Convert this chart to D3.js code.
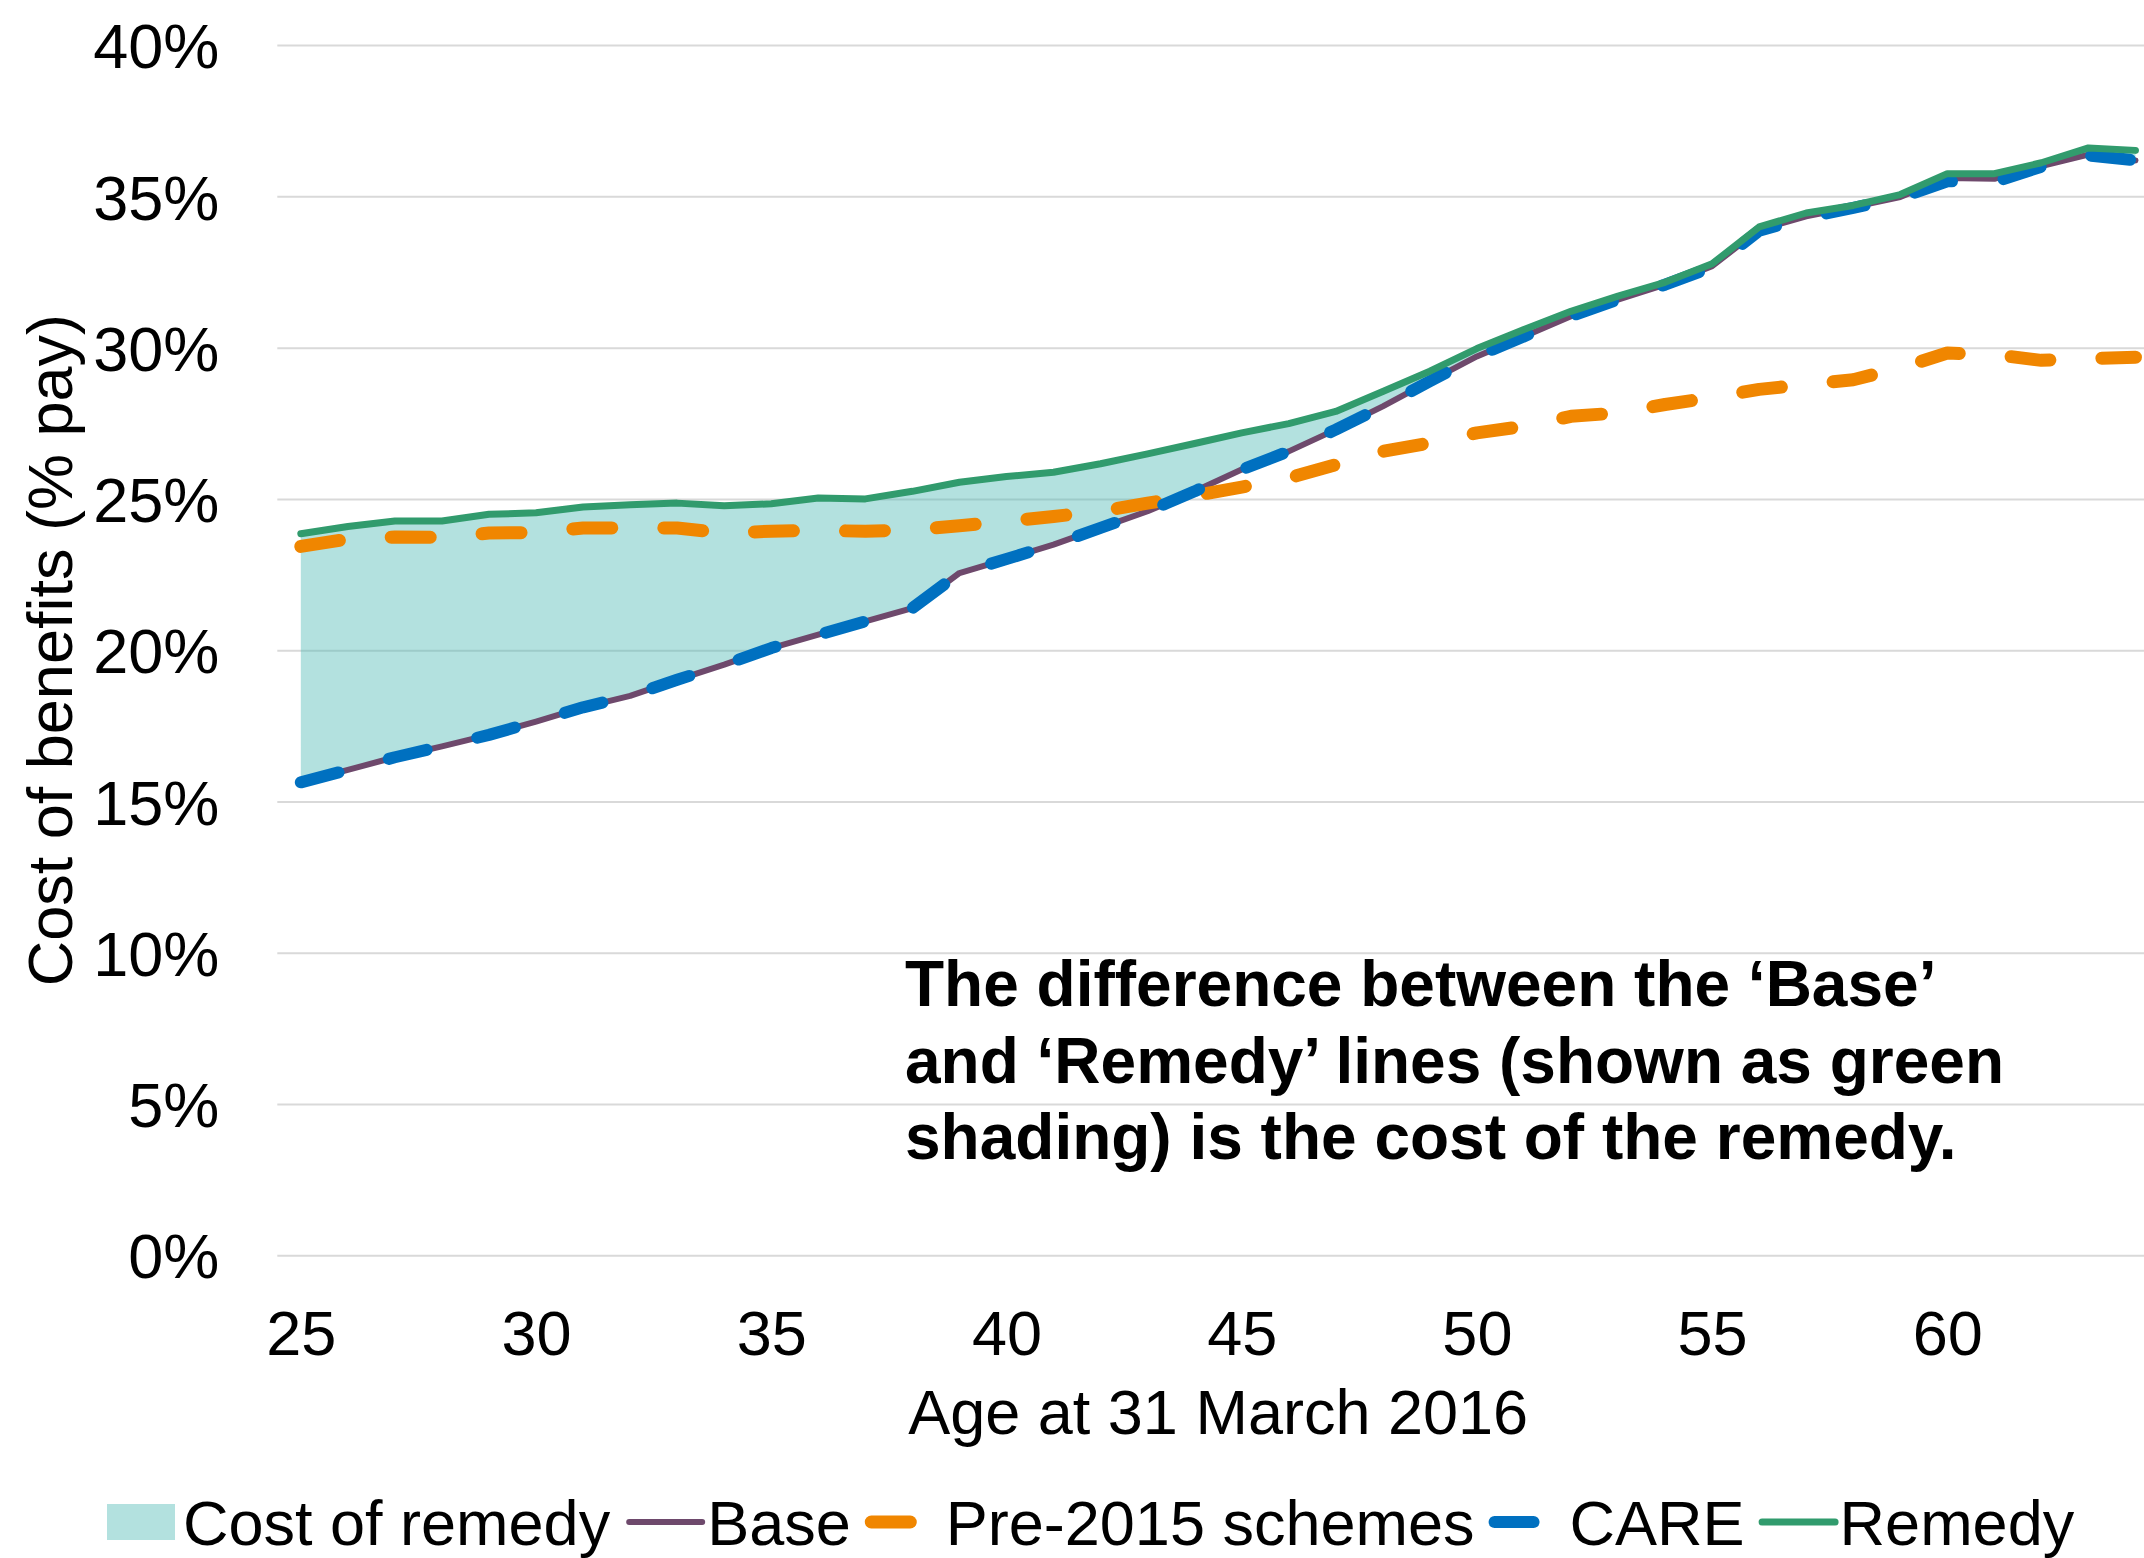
<!DOCTYPE html>
<html>
<head>
<meta charset="utf-8">
<script src="https://cdn.jsdelivr.net/npm/d3@7"></script>
<style>
  body { margin: 0; background: #fff; }
  text { font-family: "Liberation Sans", Arial, sans-serif; fill: #000; }
</style>
</head>
<body>
<div id="chart"></div>
<script>
// ages on the category axis
const ages = [25, 26, 27, 28, 29, 30, 31, 32, 33, 34, 35, 36, 37, 38, 39, 40, 41, 42, 43, 44,
              45, 46, 47, 48, 49, 50, 51, 52, 53, 54, 55, 56, 57, 58, 59, 60, 61, 62, 63, 64];

// cost of benefits, % of pay
const base = [15.63, 16.04, 16.46, 16.82, 17.20, 17.64, 18.11, 18.49, 19.02, 19.52,
              20.07, 20.51, 20.95, 21.39, 22.55, 23.01, 23.49, 24.04, 24.59, 25.25,
              25.97, 26.57, 27.29, 28.06, 28.89, 29.71, 30.37, 31.04, 31.59, 32.08,
              32.69, 33.90, 34.34, 34.65, 34.98, 35.61, 35.58, 36.00, 36.38, 36.19];
const pre2015 = [23.43, 23.67, 23.74, 23.73, 23.87, 23.89, 24.04, 24.04, 24.04, 23.87,
                 23.93, 23.96, 23.93, 23.98, 24.11, 24.26, 24.42, 24.59, 24.86, 25.11,
                 25.39, 25.69, 26.13, 26.57, 26.85, 27.18, 27.40, 27.73, 27.84, 28.12,
                 28.35, 28.62, 28.78, 28.94, 29.33, 29.82, 29.77, 29.58, 29.64, 29.68];
const care = [15.63, 16.04, 16.46, 16.82, 17.20, 17.64, 18.11, 18.49, 19.02, 19.52,
              20.07, 20.51, 20.95, 21.39, 22.55, 23.01, 23.49, 24.04, 24.59, 25.25,
              25.97, 26.57, 27.29, 28.06, 28.89, 29.71, 30.37, 31.04, 31.59, 32.08,
              32.66, 33.86, 34.30, 34.62, 34.95, 35.50, 35.47, 35.98, 36.35, 36.19];
const remedy = [23.85, 24.09, 24.27, 24.27, 24.49, 24.54, 24.73, 24.81, 24.86, 24.77,
                24.84, 25.03, 25.00, 25.25, 25.55, 25.74, 25.88, 26.16, 26.49, 26.83,
                27.18, 27.49, 27.89, 28.55, 29.22, 29.97, 30.60, 31.20, 31.70, 32.16,
                32.77, 33.99, 34.45, 34.70, 35.06, 35.75, 35.75, 36.11, 36.60, 36.52];

const xTickLabels = [25, 30, 35, 40, 45, 50, 55, 60];
const yTickValues = [0, 5, 10, 15, 20, 25, 30, 35, 40];
const legendLabels = ["Cost of remedy", "Base", "Pre-2015 schemes", "CARE", "Remedy"];
const noteLines = ["The difference between the \u2018Base\u2019",
                   "and \u2018Remedy\u2019 lines (shown as green",
                   "shading) is the cost of the remedy."];

const W = 2144, H = 1558;
const plot = {left: 277.3, right: 2159, top: 45.1, bottom: 1255.2};
const fontSize = 63;

const rows = ages.map((a, i) => ({age: a, base: base[i], pre: pre2015[i], care: care[i], remedy: remedy[i]}));

const series = [
  {key: "base",   label: legendLabels[1], color: "#6e496c", width: 6},
  {key: "pre",    label: legendLabels[2], color: "#f08600", width: 13, dash: "39 52"},
  {key: "care",   label: legendLabels[3], color: "#0070c0", width: 12, dash: "39 52"},
  {key: "remedy", label: legendLabels[4], color: "#319b6d", width: 7}
];

const svg = d3.select("#chart").append("svg")
  .attr("width", W).attr("height", H);

const x = d3.scalePoint().domain(ages).range([plot.left, plot.right]).padding(0.5);
const y = d3.scaleLinear().domain([0, 40]).range([plot.bottom, plot.top]);

// y axis + gridlines
const yAxisG = svg.append("g")
  .attr("transform", `translate(${plot.left},0)`)
  .call(d3.axisLeft(y).tickValues(yTickValues).tickSize(-(W - plot.left)).tickPadding(58)
    .tickFormat(d => d + "%"));
yAxisG.select(".domain").remove();
yAxisG.selectAll(".tick line").attr("stroke", "#d9d9d9").attr("stroke-width", 2);
yAxisG.selectAll(".tick text").attr("font-size", fontSize)
  .attr("font-family", "Liberation Sans, Arial, sans-serif").attr("dy", "0.36em");

// x axis
const xAxisG = svg.append("g")
  .attr("transform", `translate(0,${plot.bottom})`)
  .call(d3.axisBottom(x).tickValues(xTickLabels).tickSize(0).tickPadding(55));
xAxisG.select(".domain").remove();
xAxisG.selectAll(".tick text").attr("font-size", fontSize)
  .attr("font-family", "Liberation Sans, Arial, sans-serif");

// shaded cost of remedy
const area = d3.area()
  .x(d => x(d.age))
  .y0(d => y(d.base))
  .y1(d => y(d.remedy));
svg.append("path").datum(rows)
  .attr("d", area)
  .attr("fill", "rgb(78,185,181)")
  .attr("fill-opacity", 0.43);

// lines
series.forEach(s => {
  const line = d3.line().x(d => x(d.age)).y(d => y(d[s.key]));
  svg.append("path").datum(rows)
    .attr("d", line)
    .attr("fill", "none")
    .attr("stroke", s.color)
    .attr("stroke-width", s.width)
    .attr("stroke-linejoin", "round")
    .attr("stroke-linecap", "round")
    .attr("stroke-dasharray", s.dash || null);
});

// axis titles
svg.append("text")
  .attr("x", (plot.left + plot.right) / 2).attr("y", 1434)
  .attr("text-anchor", "middle").attr("font-size", fontSize)
  .text("Age at 31 March 2016");
svg.append("text")
  .attr("transform", `translate(72,${(plot.top + plot.bottom) / 2}) rotate(-90)`)
  .attr("text-anchor", "middle").attr("font-size", fontSize)
  .text("Cost of benefits (% pay)");

// annotation
svg.append("g").selectAll("text").data(noteLines).join("text")
  .attr("x", 905)
  .attr("y", (d, i) => 1006 + i * 76.6)
  .attr("font-size", 64).attr("font-weight", "bold")
  .text(d => d);

// legend
const legend = svg.append("g");
const ly = 1522;
let lx = 107;
legend.append("rect").attr("x", lx).attr("y", ly - 18).attr("width", 68).attr("height", 36)
  .attr("fill", "rgb(78,185,181)").attr("fill-opacity", 0.43);
lx += 76;
let t = legend.append("text").attr("x", lx).attr("y", ly + 22.5).attr("font-size", fontSize)
  .text(legendLabels[0]);
lx += t.node().getComputedTextLength() + 16;
series.forEach(s => {
  legend.append("line")
    .attr("x1", lx + s.width / 2).attr("x2", lx + s.width / 2 + 73)
    .attr("y1", ly).attr("y2", ly)
    .attr("stroke", s.color).attr("stroke-width", s.width)
    .attr("stroke-linecap", "round")
    .attr("stroke-dasharray", s.dash || null);
  lx += 81;
  t = legend.append("text").attr("x", lx).attr("y", ly + 22.5).attr("font-size", fontSize)
    .text(s.label);
  lx += t.node().getComputedTextLength() + 14;
});
</script>
</body>
</html>
